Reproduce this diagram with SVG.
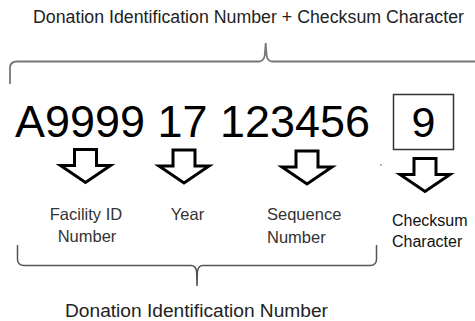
<svg xmlns="http://www.w3.org/2000/svg" width="475" height="321" viewBox="0 0 475 321">
<defs>
<style>
text{font-family:"Liberation Sans",Arial,sans-serif}
.lbl{font-size:16.5px;fill:#333}
.cks{font-size:16px;fill:#111}
.title{font-size:17.5px;fill:#222}
.big{font-size:45px;fill:#000}
.brace{fill:none;stroke:#777;stroke-width:1.8}
.brace2{fill:none;stroke:#555;stroke-width:1.5}
.arrow{fill:#fff;stroke:#000;stroke-width:3;stroke-linejoin:miter}
</style>
<path id="arr" d="M-11,0 H11 V16 H25 L0,33 L-25,16 H-11 Z"/>
</defs>
<rect width="475" height="321" fill="#fff"/>
<g id="title-top"><text class="title" x="33" y="23" textLength="431" lengthAdjust="spacingAndGlyphs">Donation Identification Number + Checksum Character</text></g>
<g id="connectors">
<path class="brace" d="M10,84 V68 Q10,61.5 17,61.5 H259 Q264,61.5 264.8,55 L265.7,43 L266.6,55 Q267.4,61.5 272,61.5 H476"/>
<path class="brace2" d="M17.5,245 V259 Q17.5,265.5 24,265.5 H191 Q196,265.5 196.6,272 L197,286 L197.4,272 Q198,265.5 203,265.5 H370 Q376.5,265.5 376.5,259 V245"/>
<circle cx="381" cy="165" r="1" fill="#999"/>
</g>
<g id="number"><text class="big" x="15" y="137" textLength="355" lengthAdjust="spacingAndGlyphs">A9999 17 123456</text></g>
<g id="checksum-box"><rect x="393.5" y="94.5" width="60" height="55" fill="none" stroke="#333" stroke-width="1.5"/><text class="big" style="font-size:43px" x="423.5" y="137" text-anchor="middle">9</text></g>
<g id="arrow-facility"><use href="#arr" class="arrow" transform="translate(85.5,149.5)"/></g>
<g id="arrow-year"><use href="#arr" class="arrow" transform="translate(184,150)"/></g>
<g id="arrow-seq"><use href="#arr" class="arrow" transform="translate(307,151)"/></g>
<g id="arrow-checksum"><use href="#arr" class="arrow" transform="translate(425,158.5)"/></g>
<g id="label-facility"><text class="lbl" x="86" y="220" text-anchor="middle">Facility ID</text><text class="lbl" x="87" y="242" text-anchor="middle">Number</text></g>
<g id="label-year"><text class="lbl" x="187.5" y="220" text-anchor="middle">Year</text></g>
<g id="label-seq"><text class="lbl" x="267" y="220">Sequence</text><text class="lbl" x="267" y="243">Number</text></g>
<g id="label-checksum"><text class="cks" x="392" y="225.5">Checksum</text><text class="cks" x="392" y="246.5">Character</text></g>
<g id="title-bottom"><text class="title" x="65" y="317" textLength="263" lengthAdjust="spacingAndGlyphs">Donation Identification Number</text></g>
</svg>
